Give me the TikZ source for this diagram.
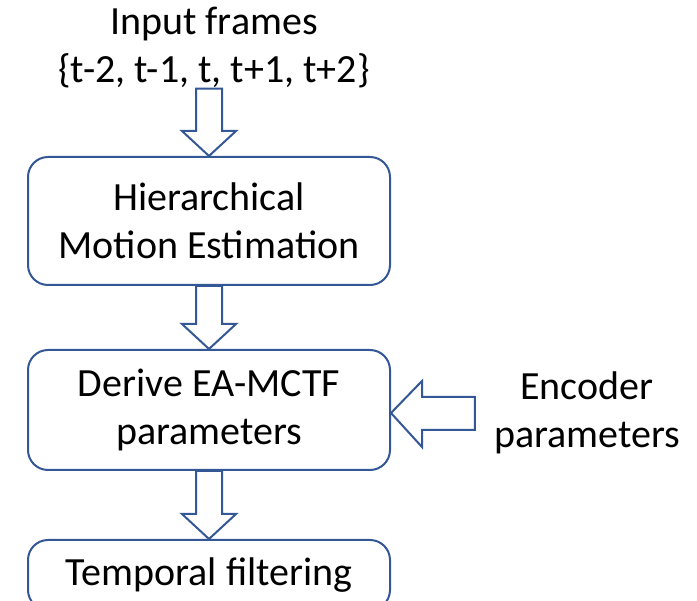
\documentclass[tikz,border=0pt]{standalone}
\usepackage{fontspec}
\setmainfont{Carlito}
\usetikzlibrary{calc}
\definecolor{boxblue}{RGB}{52,87,150}

\newcommand{\downblock}[2]{%
  \draw[hollow] ($(#1.south -| #2.north)+(-13,0)$) -- ($(#2.north)+(-13,-25)$) -- ($(#2.north)+(-27,-25)$)
    -- (#2.north) -- ($(#2.north)+(27,-25)$) -- ($(#2.north)+(13,-25)$) -- ($(#1.south -| #2.north)+(13,0)$) -- cycle;}

\begin{document}
\begin{tikzpicture}[x = 1pt, y = -1pt,
    every node/.style = {font = \fontsize{40}{48}\selectfont, align = center},
    stage/.style = {draw = boxblue, line width = 2pt, rounded corners = 20pt, minimum width = 362pt},
    hollow/.style = {draw = boxblue, line width = 2pt, fill = white, line join = miter}]
  \useasboundingbox (0,0) rectangle (697,601);
  \clip (0,0) rectangle (697,601);

  \node[inner sep = 0pt] (frames) at (214,48) {Input frames\\\{t-2, t-1, t, t+1, t+2\}};
  \node[stage, minimum height = 128pt] (motion) at (209,221) {Hierarchical\\Motion Estimation};
  \node[stage, minimum height = 120pt] (derive) at (209,410) {Derive EA-MCTF\\parameters};
  \node[stage, minimum height = 70pt, anchor = north] (filter) at (209,539) {Temporal filtering};
  \node[inner sep = 0pt] (encoder) at (587,413) {Encoder\\parameters};

  % block arrows
  \downblock{frames}{motion}
  \downblock{motion}{derive}
  \downblock{derive}{filter}
  \draw[hollow] (derive.east |- encoder.west) -- ++(31,-32) -- ++(0,16) -- ($(encoder.west)+(-19,-16)$)
    -- ($(encoder.west)+(-19,17)$) -- ($(derive.east |- encoder.west)+(31,17)$) -- ++(0,17) -- cycle;
\end{tikzpicture}
\end{document}
